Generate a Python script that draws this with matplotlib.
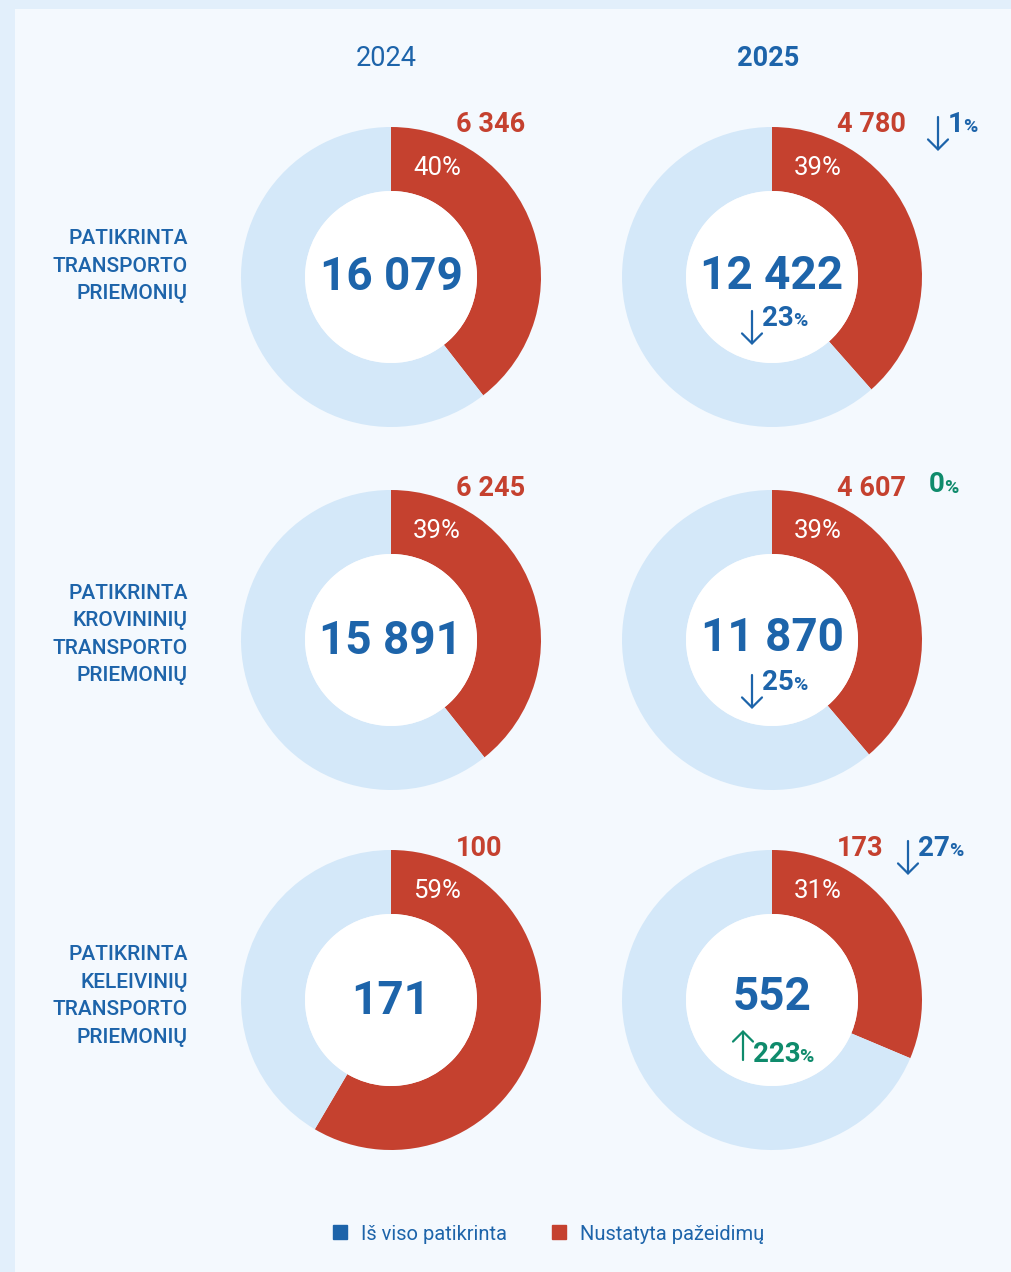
import matplotlib
matplotlib.use("Agg")
import matplotlib.pyplot as plt
from matplotlib.patches import Rectangle, Circle
from matplotlib.lines import Line2D

# ---- data ----
years = ["2024", "2025"]
categories = [
    "PATIKRINTA\nTRANSPORTO\nPRIEMONIŲ",
    "PATIKRINTA\nKROVININIŲ\nTRANSPORTO\nPRIEMONIŲ",
    "PATIKRINTA\nKELEIVINIŲ\nTRANSPORTO\nPRIEMONIŲ",
]
checked_2024 = [16079, 15891, 171]
checked_2025 = [12422, 11870, 552]
violations_2024 = [6346, 6245, 100]
violations_2025 = [4780, 4607, 173]
share_2024 = [40, 39, 59]
share_2025 = [39, 39, 31]
checked_change = [-23, -25, 223]      # change of checked vehicles, %
share_change = [-1, 0, -27]           # change shown next to violations, %
legend_labels = ["Iš viso patikrinta", "Nustatyta pažeidimų"]

# ---- style ----
BLUE = "#1d64aa"
RED = "#c5412f"
LIGHT = "#d4e8f9"
GREEN = "#0f8b6c"
PANEL = "#f4f9fe"
FRAME = "#e2effb"
FONT = "Roboto"

W, H = 1012, 1272
fig = plt.figure(figsize=(W / 100, H / 100), dpi=100, facecolor=FRAME)
ax = fig.add_axes([0, 0, 1, 1])
ax.set_xlim(0, W)
ax.set_ylim(0, H)


def Y(y):
    return H - y


def fmt(v):
    return f"{v:,}".replace(",", " ")


ax.add_patch(Rectangle((15, 0), W - 15, H - 9, facecolor=PANEL, edgecolor="none", zorder=0))

col_x = [391, 772]
row_y = [277, 640, 1000]
label_y = [266, 634.5, 996]
center_dy = [[0, -1], [1, -2], [1, -3]]
R_OUT, R_IN = 150, 86

# year headers
ax.text(col_x[0] - 5, Y(58), years[0], ha="center", va="center", color=BLUE,
        fontsize=19.5, family=FONT)
ax.text(col_x[1] - 4, Y(58), years[1], ha="center", va="center", color=BLUE,
        fontsize=19.5, family=FONT, fontweight="bold")

fig.canvas.draw()
renderer = fig.canvas.get_renderer()


def change_label(x, y, value, big=20, small=14, arrow_dx=-10):
    color = GREEN if value >= 0 else BLUE
    style = dict(arrowstyle="->,head_length=0.45,head_width=0.45", lw=1.6,
                 color=color, mutation_scale=16, shrinkA=0, shrinkB=0)
    if value < 0:
        ax.annotate("", xy=(x + arrow_dx, Y(y + 27)), xytext=(x + arrow_dx, Y(y - 7)),
                    arrowprops=style)
    elif value > 0:
        ax.annotate("", xy=(x + arrow_dx, Y(y - 24)), xytext=(x + arrow_dx, Y(y + 6)),
                    arrowprops=style)
    t = ax.text(x, Y(y), f"{abs(value)}", ha="left", va="center", color=color,
                fontsize=big, family=FONT, fontweight="bold", zorder=5)
    width = t.get_window_extent(renderer).width  # axes data units are pixels
    ax.text(x + width - 1, Y(y + 3), "%", ha="left", va="center", color=color,
            fontsize=small, family=FONT, fontweight="bold", zorder=5)


outer_pos = [(948, 124), (929, 485), (918, 848)]
inner_pos = [(762, 318), (762, 682), (753, 1054)]

for r in range(3):
    cy = row_y[r]
    # category label
    ax.text(188, Y(label_y[r]), categories[r], ha="right", va="center", color=BLUE,
            fontsize=15, family=FONT, linespacing=1.57, fontweight="medium")
    for c, (tot, vio, sh) in enumerate([
        (checked_2024[r], violations_2024[r], share_2024[r]),
        (checked_2025[r], violations_2025[r], share_2025[r]),
    ]):
        cx = col_x[c]
        ax.pie([vio, tot - vio], colors=[RED, LIGHT], startangle=90, counterclock=False,
               center=(cx, Y(cy)), radius=R_OUT, frame=True,
               wedgeprops=dict(width=R_OUT - R_IN, linewidth=0))
        ax.add_patch(Circle((cx, Y(cy)), R_IN, facecolor="white", edgecolor="none", zorder=3))
        ax.text(cx, Y(cy + center_dy[r][c]), fmt(tot), ha="center", va="center",
                color=BLUE, fontsize=33, family=FONT, fontweight="bold", zorder=4)
        ax.text(cx + 46, Y(cy - 109), f"{sh}%", ha="center", va="center", color="white",
                fontsize=18.5, family=FONT, zorder=4)
        ax.text(cx + 65, Y(cy - 152), fmt(vio), ha="left", va="center", color=RED,
                fontsize=19.5, family=FONT, fontweight="bold")
    # 2025 change indicators
    ox, oy = outer_pos[r]
    change_label(ox, oy, share_change[r])
    ix, iy = inner_pos[r]
    change_label(ix, iy, checked_change[r])

handles = [Line2D([], [], marker="s", linestyle="none", markersize=10, color=BLUE),
           Line2D([], [], marker="s", linestyle="none", markersize=10, color=RED)]
leg = ax.legend(handles, legend_labels, loc="center", bbox_to_anchor=(547 / W, 1 - 1234 / H),
                ncol=2, frameon=False, handletextpad=0.55, columnspacing=2.1,
                prop=dict(family=FONT, size=14.5), handlelength=1.0)
for t in leg.get_texts():
    t.set_color(BLUE)

ax.set_xlim(0, W)
ax.set_ylim(0, H)
ax.set_aspect("auto")
ax.axis("off")

fig.savefig("out.png", dpi=100, facecolor=FRAME)
